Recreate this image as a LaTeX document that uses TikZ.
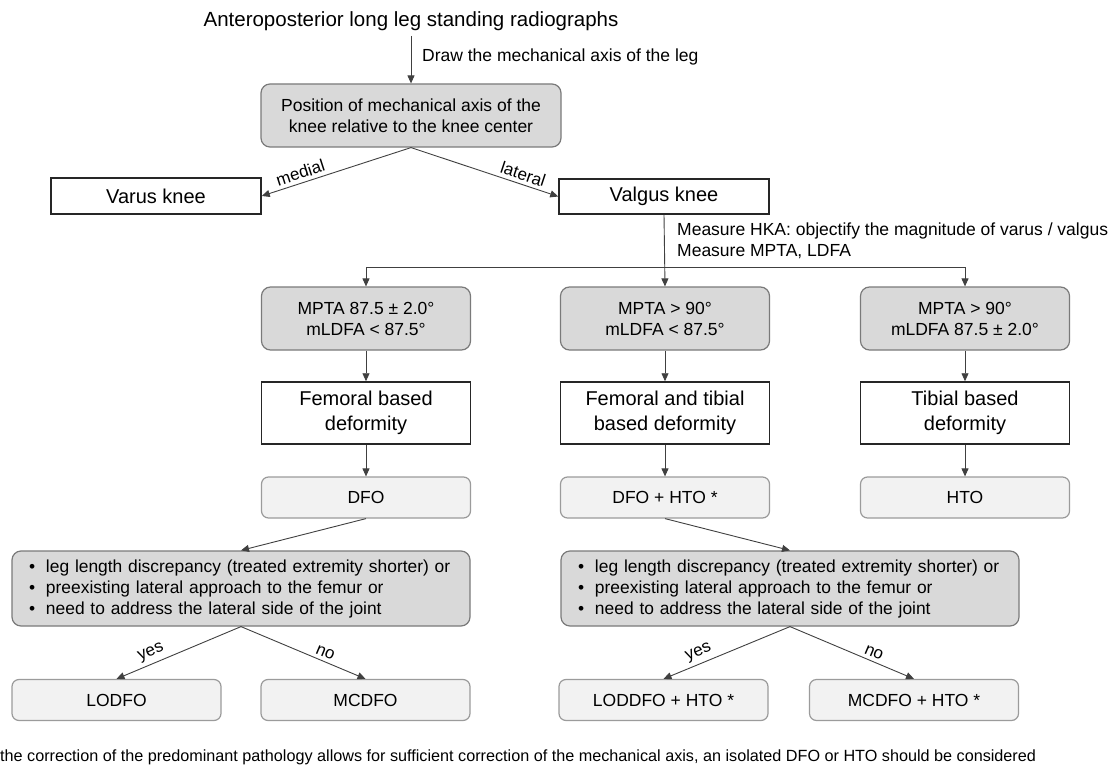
\documentclass[tikz,border=0pt]{standalone}
\usepackage{fontspec}
\setmainfont{Liberation Sans}
\usetikzlibrary{arrows.meta}
\definecolor{boxgray}{HTML}{D9D9D9}
\definecolor{boxlight}{HTML}{F2F2F2}
\definecolor{edgegray}{HTML}{7A7A7A}
\definecolor{linegray}{HTML}{404040}
\newcommand{\critbullet}{\makebox[17pt][l]{\textbullet}}

\begin{document}
\begin{tikzpicture}[x=1pt,y=-1pt,
  decision/.style={draw=edgegray,fill=boxgray,rounded corners=9pt,line width=1.2pt,
    align=center,inner sep=0pt,font=\fontsize{17.5}{21}\selectfont},
  result/.style={draw=black!85,fill=white,line width=1.5pt,align=center,inner sep=0pt,
    font=\fontsize{20}{25}\selectfont},
  therapy/.style={draw=edgegray!75,fill=boxlight,rounded corners=7pt,line width=1.2pt,
    inner sep=0pt,minimum width=209pt,minimum height=41pt,font=\fontsize{17.5}{21}\selectfont},
  crit/.style={decision,minimum width=458pt,minimum height=75pt,text width=424pt,
    align=left,font=\fontsize{17.4}{21}\selectfont},
  arr/.style={draw=linegray,line width=0.9pt,-{Triangle[length=8pt,width=7pt]}},
  lbl/.style={font=\fontsize{17}{20}\selectfont,sloped,above,inner sep=3.5pt}]
\useasboundingbox (0,0) rectangle (1118,767);
% top
\node[font=\fontsize{20.5}{24}\selectfont,inner ysep=5pt] (title) at (411,21) {Anteroposterior long leg standing radiographs};
\node[anchor=west,inner sep=0pt,font=\fontsize{17.5}{21}\selectfont] (drawlbl) at (422,57) {Draw the mechanical axis of the leg};
\node[decision,minimum width=300pt,minimum height=63pt] (axis) at (411,115.5) {Position of mechanical axis of the\\knee relative to the knee center};
\node[result,minimum width=210pt,minimum height=36pt] (varus) at (156,196) {Varus knee};
\node[result,minimum width=210pt,minimum height=35pt] (valgus) at (664,196.5) {Valgus knee};
\draw[arr] (title.south) -- (axis.north);
\draw[arr] (axis.south) -- (varus.east) node[lbl,pos=0.72] {medial};
\draw[arr] (axis.south) -- (valgus.west) node[lbl,pos=0.74] {lateral};
%
\node[anchor=west,align=left,inner sep=0pt,font=\fontsize{17.5}{21}\selectfont] (measure) at (677,241) {Measure HKA: objectify the magnitude of varus / valgus\\Measure MPTA, LDFA};
\coordinate (split) at (665,267);
% angles
\node[decision,minimum width=209pt,minimum height=63pt] (mptaA) at (366,318.5) {MPTA 87.5 ± 2.0°\\mLDFA < 87.5°};
\node[decision,minimum width=209pt,minimum height=63pt] (mptaB) at (665,318.5) {MPTA > 90°\\mLDFA < 87.5°};
\node[decision,minimum width=209pt,minimum height=63pt] (mptaC) at (965,318.5) {MPTA > 90°\\mLDFA 87.5 ± 2.0°};
\draw[arr] (valgus.south) -- (mptaB.north);
\draw[arr] (split) -| (mptaA.north);
\draw[arr] (split) -| (mptaC.north);
% deformity
\node[result,minimum width=209pt,minimum height=62pt] (defA) at (366,413) {Femoral based\\deformity};
\node[result,minimum width=209pt,minimum height=62pt] (defB) at (665,413) {Femoral and tibial\\based deformity};
\node[result,minimum width=209pt,minimum height=62pt] (defC) at (965,413) {Tibial based\\deformity};
\draw[arr] (mptaA) -- (defA);
\draw[arr] (mptaB) -- (defB);
\draw[arr] (mptaC) -- (defC);
% osteotomy
\node[therapy] (dfo) at (366,497.5) {DFO};
\node[therapy] (dfohto) at (665,497.5) {DFO + HTO *};
\node[therapy] (hto) at (965,497.5) {HTO};
\draw[arr] (defA) -- (dfo);
\draw[arr] (defB) -- (dfohto);
\draw[arr] (defC) -- (hto);
% approach
\node[crit] (critA) at (241,588.5) {\critbullet leg length discrepancy (treated extremity shorter) or\\\critbullet preexisting lateral approach to the femur or\\\critbullet need to address the lateral side of the joint};
\node[crit] (critB) at (790,588.5) {\critbullet leg length discrepancy (treated extremity shorter) or\\\critbullet preexisting lateral approach to the femur or\\\critbullet need to address the lateral side of the joint};
\draw[arr] (dfo.south) -- (critA.north);
\draw[arr] (dfohto.south) -- (critB.north);
%
\node[therapy] (lodfo) at (116.5,700) {LODFO};
\node[therapy] (mcdfo) at (365.5,700) {MCDFO};
\node[therapy] (loddfo) at (663.5,700) {LODDFO + HTO *};
\node[therapy] (mcdfohto) at (914,700) {MCDFO + HTO *};
\draw[arr] (critA.south) -- (lodfo.north) node[lbl,pos=0.69] {yes};
\draw[arr] (critA.south) -- (mcdfo.north) node[lbl,pos=0.65] {no};
\draw[arr] (critB.south) -- (loddfo.north) node[lbl,pos=0.69] {yes};
\draw[arr] (critB.south) -- (mcdfohto.north) node[lbl,pos=0.65] {no};
% note
\node[anchor=west,inner sep=0pt,font=\fontsize{16.2}{19}\selectfont] (note) at (0,757) {the correction of the predominant pathology allows for sufficient correction of the mechanical axis, an isolated DFO or HTO should be considered};
\end{tikzpicture}
\end{document}
